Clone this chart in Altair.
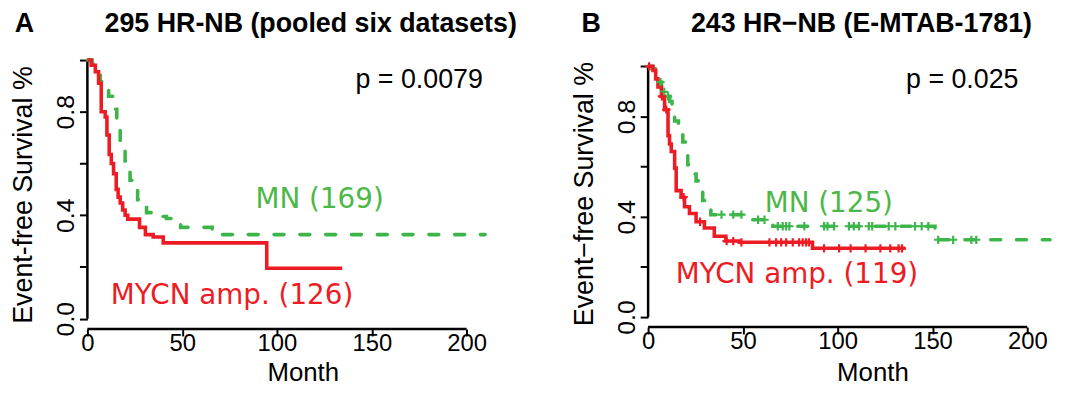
import altair as alt
import pandas as pd

RED = "#ED1C24"
GREEN = "#3DB54A"
FONT = "Liberation Sans"
LABEL_FONT = "DejaVu Sans"
XMAX = 212

# ---------------- Panel A (pooled six datasets) ----------------
a_red_t = [0, 2, 4.2, 5.9, 7.3, 9.4, 10.3, 11.5, 12.6, 13.8, 15.2, 16.2, 17.3, 18.6, 19.9, 21.3, 27.5, 30.6, 34.7, 40, 94.6, 134.4]
a_red_s = [1.0, 0.98, 0.955, 0.91, 0.80, 0.78, 0.71, 0.635, 0.60, 0.56, 0.50, 0.47, 0.447, 0.42, 0.40, 0.385, 0.353, 0.325, 0.316, 0.293, 0.195, 0.195]
a_green_t = [0, 2.5, 5.9, 6.8, 9, 11.2, 13.5, 15.5, 17.3, 18.6, 19.9, 22.5, 24.5, 26.5, 28.5, 31.2, 33.9, 41.7, 49.2, 65.8, 209.8]
a_green_s = [1.0, 0.985, 0.94, 0.917, 0.89, 0.86, 0.81, 0.773, 0.685, 0.65, 0.61, 0.535, 0.50, 0.46, 0.43, 0.41, 0.395, 0.387, 0.353, 0.325, 0.325]
a_red_cens = []
a_green_cens = []

# ---------------- Panel B (E-MTAB-1781) ----------------
b_red_t = [0, 2.6, 4, 5.2, 7, 8.7, 10.5, 11.3, 12.2, 14, 14.8, 17.4, 19.2, 21.8, 25.3, 29.7, 34.9, 41, 48.3, 86.7, 135.6]
b_red_s = [1.0, 0.983, 0.95, 0.918, 0.88, 0.827, 0.723, 0.69, 0.66, 0.594, 0.504, 0.478, 0.44, 0.413, 0.38, 0.355, 0.322, 0.303, 0.298, 0.274, 0.274]
b_green_t = [0, 2, 4.3, 7, 9, 11.4, 12.6, 14, 16, 18.3, 20.9, 23, 25.3, 28.8, 30, 33.1, 50.1, 62.3, 65.8, 151.3, 217]
b_green_s = [1.0, 0.99, 0.937, 0.898, 0.88, 0.86, 0.835, 0.782, 0.74, 0.698, 0.607, 0.57, 0.543, 0.465, 0.434, 0.408, 0.388, 0.376, 0.362, 0.308, 0.308]
b_red_cens = [0.5, 7.3, 9.6, 18.7, 27.4, 41.4, 44.9, 49.2, 64, 67.5, 70.2, 72.8, 76.3, 79.6, 81.5, 83.3, 84.8,
              92.8, 100.7, 106.8, 114.7, 122.5, 127.7, 132.1, 133.9]
b_green_cens = [6.5, 8.5, 10.5, 38.7, 44.9, 49.2, 58, 61.4, 68.4, 71.0, 72.8, 74.5, 82.4, 92.8, 94.6, 98.1,
                105.9, 108.5, 111.2, 116.4, 118.2, 126.9, 130.4, 140.8, 144.3, 147.8, 153, 160.9, 170.5, 173.1]

x_ticks = [0, 50, 100, 150, 200]
y_ticks = [0.0, 0.2, 0.4, 0.6, 0.8, 1.0]


def surv_at(ts, ss, x):
    v = ss[0]
    for t, s in zip(ts, ss):
        if t <= x:
            v = s
    return v


def panel(red_t, red_s, green_t, green_s, red_c, green_c, ymax, height, ytitle,
          title, title_x, letter, letter_x, mn_text, mn_xy, mycn_text, mycn_xy,
          p_text, p_xy, month_x, month_y):
    xsc = alt.Scale(domain=[0, XMAX], nice=False, zero=False, clamp=True)
    ysc = alt.Scale(domain=[-0.04, ymax], nice=False, zero=False)
    xaxis = alt.Axis(values=x_ticks, title="Month", domain=False, grid=False,
                     tickSize=7, tickWidth=2, tickColor="black",
                     labelFont=FONT, labelFontSize=24, labelColor="black",
                     labelPadding=-4, labelFlush=False, labelOverlap=False,
                     titleFont=FONT, titleFontSize=26, titleFontWeight="normal",
                     titleColor="black", titleX=month_x, titleY=month_y,
                     titleBaseline="alphabetic")
    yaxis = alt.Axis(values=y_ticks, title=ytitle, domain=False, grid=False,
                     labelExpr="(round(datum.value*10) % 4 == 0) ? format(datum.value, '.1f') : ''",
                     tickSize=8, tickWidth=2, tickColor="black",
                     labelAngle=270, labelAlign="center", labelBaseline="bottom",
                     labelPadding=1, labelFont=FONT, labelFontSize=25, labelColor="black",
                     labelOverlap=False, labelFlush=False,
                     titleFont=FONT, titleFontSize=27, titleFontWeight="normal",
                     titleColor="black", titlePadding=16)

    def X(field):
        return alt.X(field, type="quantitative", scale=xsc, axis=xaxis)

    def Y(field):
        return alt.Y(field, type="quantitative", scale=ysc, axis=yaxis)

    red_df = pd.DataFrame({"t": red_t, "s": red_s})
    green_df = pd.DataFrame({"t": green_t, "s": green_s})

    red_line = alt.Chart(red_df).mark_line(
        interpolate="step-after", color=RED, strokeWidth=3.6
    ).encode(x=X("t"), y=Y("s"))
    green_line = alt.Chart(green_df).mark_line(
        interpolate="step-after", color=GREEN, strokeWidth=3.6,
        strokeDash=[10, 16], strokeCap="round"
    ).encode(x=X("t"), y=Y("s"))

    layers = []
    # axis lines drawn only between the first and last tick, like base R
    yrule = alt.Chart(pd.DataFrame({"x": [0], "y": [0.0], "y2": [1.0]})).mark_rule(
        color="black", strokeWidth=2.5).encode(x=X("x"), y=Y("y"), y2="y2")
    xrule = alt.Chart(pd.DataFrame({"x": [0], "x2": [200], "y": [-0.04]})).mark_rule(
        color="black", strokeWidth=2.5).encode(x=X("x"), x2="x2", y=Y("y"))
    layers += [yrule, xrule, green_line, red_line]

    cross = "M0,-1V1M-1,0H1"
    if green_c:
        gc = pd.DataFrame({"t": green_c, "s": [surv_at(green_t, green_s, c) for c in green_c]})
        layers.append(alt.Chart(gc).mark_point(shape=cross, size=70, filled=False,
                                               color=GREEN, strokeWidth=2.2, opacity=1)
                      .encode(x=X("t"), y=Y("s")))
    if red_c:
        rc = pd.DataFrame({"t": red_c, "s": [surv_at(red_t, red_s, c) for c in red_c]})
        layers.append(alt.Chart(rc).mark_point(shape=cross, size=70, filled=False,
                                               color=RED, strokeWidth=2.2, opacity=1)
                      .encode(x=X("t"), y=Y("s")))

    labels = pd.DataFrame({
        "x": [mn_xy[0], mycn_xy[0]],
        "y": [mn_xy[1], mycn_xy[1]],
        "label": [mn_text, mycn_text],
        "grp": ["MN", "MYCN"],
    })
    layers.append(alt.Chart(labels).mark_text(
        font=LABEL_FONT, fontSize=28, align="center", baseline="alphabetic"
    ).encode(x=X("x"), y=Y("y"), text="label:N",
             color=alt.Color("grp:N", scale=alt.Scale(domain=["MN", "MYCN"], range=["#4CB848", RED]),
                             legend=None)))

    ptab = pd.DataFrame({"x": [p_xy[0]], "y": [p_xy[1]], "label": [p_text]})
    layers.append(alt.Chart(ptab).mark_text(
        font=FONT, fontSize=27, align="center", baseline="alphabetic", color="black"
    ).encode(x=X("x"), y=Y("y"), text="label:N"))

    ttab = pd.DataFrame({"label": [title]})
    layers.append(alt.Chart(ttab).mark_text(
        font=FONT, fontSize=27, fontWeight="bold", align="center", baseline="alphabetic", color="black"
    ).encode(x=alt.value(title_x), y=alt.value(-28.7), text="label:N"))

    ltab = pd.DataFrame({"label": [letter]})
    layers.append(alt.Chart(ltab).mark_text(
        font=FONT, fontSize=27, fontWeight="bold", align="center", baseline="alphabetic", color="black"
    ).encode(x=alt.value(letter_x), y=alt.value(-28.7), text="label:N"))

    width = round(XMAX * 1.91)
    return alt.layer(*layers).properties(width=width, height=height)


panel_a = panel(a_red_t, a_red_s, a_green_t, a_green_s, a_red_cens, a_green_cens,
                ymax=1.0, height=271, ytitle="Event-free Survival %",
                title="295 HR-NB (pooled six datasets)", title_x=225,
                letter="A", letter_x=-63.5,
                mn_text="MN (169)", mn_xy=(122.5, 0.429),
                mycn_text="MYCN amp. (126)", mycn_xy=(76.3, 0.0575),
                p_text="p = 0.0079", p_xy=(175, 0.891),
                month_x=217, month_y=52)

panel_b = panel(b_red_t, b_red_s, b_green_t, b_green_s, b_red_cens, b_green_cens,
                ymax=1.025, height=269, ytitle="Event\u2212free Survival %",
                title="243 HR\u2212NB (E-MTAB-1781)", title_x=215,
                letter="B", letter_x=-57.5,
                mn_text="MN (125)", mn_xy=(95.3, 0.418),
                mycn_text="MYCN amp. (119)", mycn_xy=(78.5, 0.136),
                p_text="p = 0.025", p_xy=(165.7, 0.913),
                month_x=226, month_y=54)

chart = alt.hconcat(panel_a, panel_b, spacing=160, bounds="flush").configure_view(stroke=None).properties(
    padding={"left": 1, "top": 0, "right": -1, "bottom": 1},
    background="white",
)

chart.save("out.html", embed_options={"renderer": "svg", "actions": False})
